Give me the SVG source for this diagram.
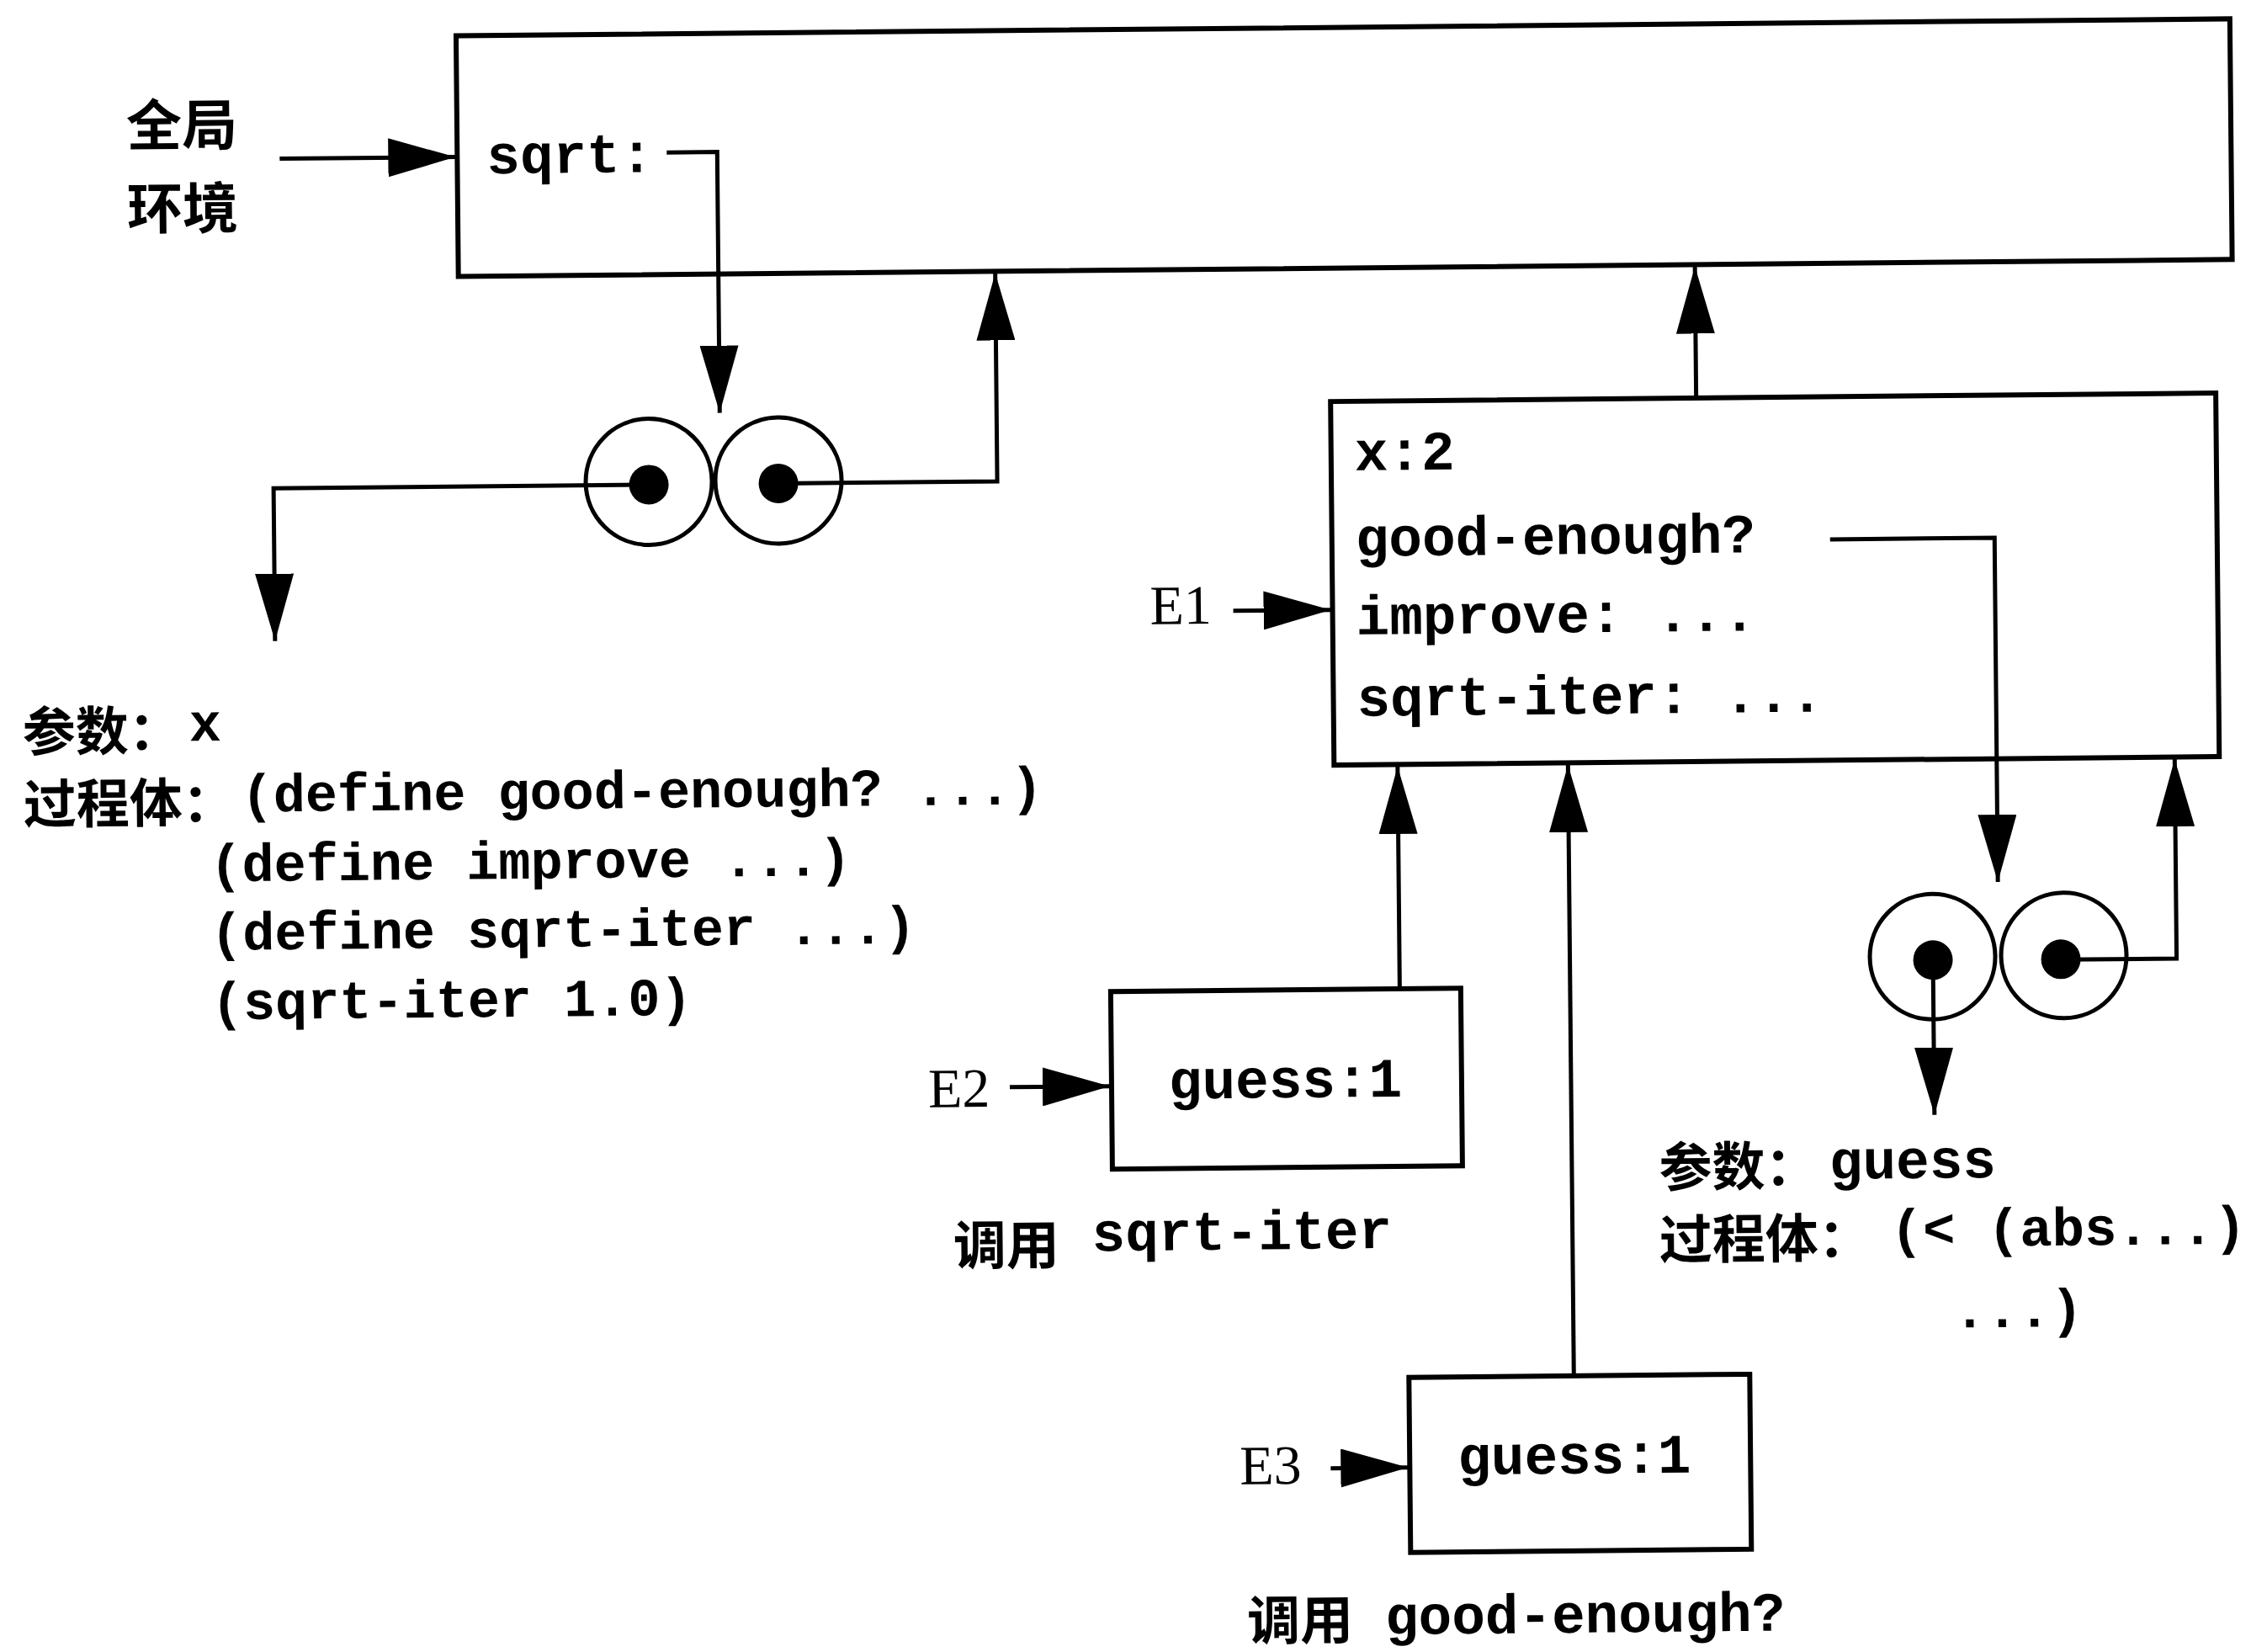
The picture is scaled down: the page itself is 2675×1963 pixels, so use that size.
<svg xmlns="http://www.w3.org/2000/svg" width="2675" height="1963" viewBox="0 0 2675 1963">
<defs>
<marker id="ah" markerUnits="userSpaceOnUse" markerWidth="80" markerHeight="46" refX="80" refY="23" orient="auto" viewBox="0 0 80 46">
<path d="M0,0 L80,23 L0,46 Z" fill="#000"/>
</marker>
</defs>
<style>
.box{fill:none;stroke:#000;stroke-width:6}
.arr{fill:none;stroke:#000;stroke-width:5;marker-end:url(#ah)}
.ring{fill:none;stroke:#000;stroke-width:5}
.dot{fill:#000}
.mono{font-family:"Liberation Mono",monospace;font-weight:bold;font-size:66px;fill:#000}
.code{font-size:63.5px}
.cjk{font-family:"Noto Sans CJK SC",sans-serif;font-weight:bold;font-size:63px;fill:#000}
.big{font-size:66px}
.lbl{font-family:"Liberation Serif",serif;font-size:66px;fill:#000}
</style>
<rect width="2675" height="1963" fill="#fff"/>
<g transform="rotate(-0.55 1337 981)">
<g id="global-label">
<text class="cjk big" x="158" y="162">全局</text>
<text class="cjk big" x="158" y="261">环境</text>
</g>
<g id="global-env">
<rect class="box" x="551" y="35" width="2108" height="286"/>
<text class="mono" x="586" y="199">sqrt:</text>
</g>
<g id="proc-sqrt">
<circle class="ring" cx="775" cy="567" r="75"/>
<circle class="ring" cx="929" cy="567" r="75"/>
<circle class="dot" cx="775" cy="570.5" r="23.5"/>
<circle class="dot" cx="929" cy="570.5" r="23.5"/>
</g>
<g id="proc-sqrt-text">
<text class="cjk" x="28" y="880">参数：</text>
<text class="mono code" x="226" y="869.5">x</text>
<text class="cjk" x="28" y="966">过程体：</text>
<text class="mono code" x="287" y="954.5">(define good-enough? ...)</text>
<text class="mono code" x="249" y="1037">(define improve ...)</text>
<text class="mono code" x="249" y="1118.5">(define sqrt-iter ...)</text>
<text class="mono code" x="249" y="1201">(sqrt-iter 1.0)</text>
</g>
<g id="E1">
<rect class="box" x="1586" y="479.5" width="1052" height="432"/>
<text class="mono" x="1614" y="561.5">x:2</text>
<text class="mono" x="1614" y="663.5">good-enough?</text>
<text class="mono" x="1614" y="756.5">improve: ...</text>
<text class="mono" x="1614" y="853.5">sqrt-iter: ...</text>
</g>
<g id="E1-label">
<text class="lbl" x="1369" y="742">E1</text>
</g>
<g id="proc-good-enough">
<circle class="ring" cx="2295" cy="1146" r="74.5"/>
<circle class="ring" cx="2451" cy="1146" r="74.5"/>
<circle class="dot" cx="2295.5" cy="1150" r="23.5"/>
<circle class="dot" cx="2447.5" cy="1150.5" r="23.5"/>
</g>
<g id="proc-good-enough-text">
<text class="cjk" x="1967.5" y="1416">参数：</text>
<text class="mono" x="2170" y="1409">guess</text>
<text class="cjk" x="1967" y="1502">过程体：</text>
<text class="mono" x="2242" y="1490.5" style="font-size:64px">(&lt; (abs...)</text>
<text class="mono" x="2316" y="1587" style="font-size:64px">...)</text>
</g>
<g id="E2">
<rect class="box" x="1318" y="1178" width="416" height="211"/>
<text class="mono" x="1386" y="1306">guess:1</text>
</g>
<g id="E2-label">
<text class="lbl" x="1100" y="1313.5">E2</text>
<text class="cjk" x="1128" y="1501">调用</text>
<text class="mono" x="1293" y="1486">sqrt-iter</text>
</g>
<g id="E3">
<rect class="box" x="1668" y="1640" width="405" height="208"/>
<text class="mono" x="1725" y="1756">guess:1</text>
</g>
<g id="E3-label">
<text class="lbl" x="1466" y="1765">E3</text>
<text class="cjk" x="1473" y="1950">调用</text>
<text class="mono" x="1637" y="1945">good-enough?</text>
</g>
<g id="connectors">
<path class="arr" d="M340,179 H549"/>
<path class="arr" d="M800,176 H860 V486"/>
<path class="arr" d="M775,570.5 H329 V752"/>
<path class="arr" d="M929,570.5 H1189 V323"/>
<path class="arr" d="M2020.5,479.5 V323"/>
<path class="arr" d="M1468,727 H1584"/>
<path class="arr" d="M2178,649 H2373.5 V1058"/>
<path class="arr" d="M2447.5,1151 H2585 V914"/>
<path class="arr" d="M2295.5,1150 V1334"/>
<path class="arr" d="M1197,1290.5 H1316"/>
<path class="arr" d="M1661.5,1178 V914"/>
<path class="arr" d="M1574,1747 H1666"/>
<path class="arr" d="M1864,1640 V914"/>
</g>
</g>
</svg>
